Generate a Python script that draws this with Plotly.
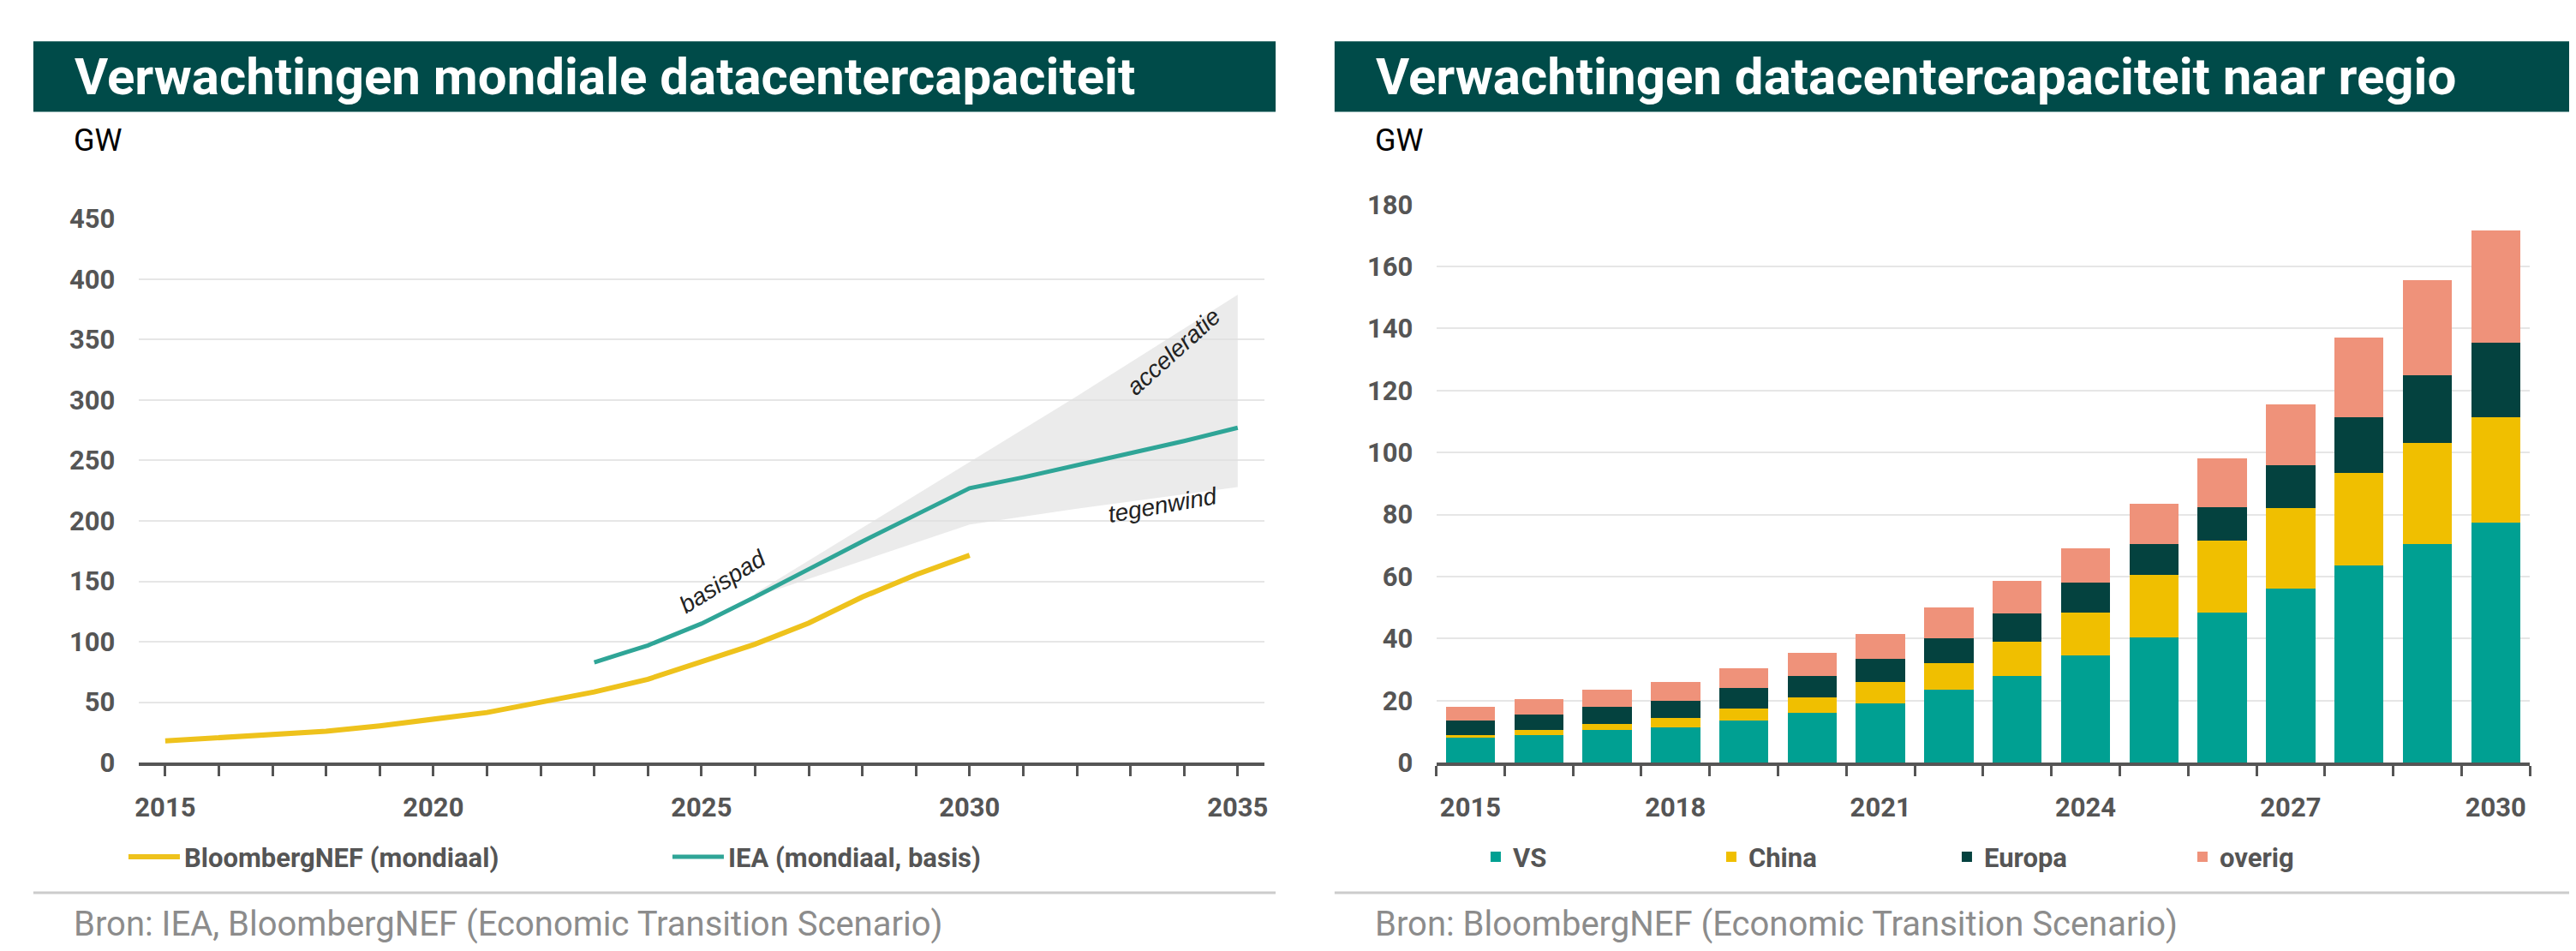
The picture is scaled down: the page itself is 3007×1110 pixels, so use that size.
import plotly.graph_objects as go

years_bnef = list(range(2015, 2031))
bnef = [18, 20.5, 23.5, 26, 30.5, 35.5, 41.5, 50, 58.5, 69, 83.5, 98, 115.5, 137, 155.5, 171.5]
years_iea = list(range(2023, 2036))
iea = [83, 97, 115, 137, 160, 183, 205, 227, 236, 246, 256, 266, 277]
band_years = [2026, 2030, 2032, 2035]
band_upper = [140, 249, 303, 387]
band_lower = [137, 197, 210, 228]

vs = [8, 9, 10.5, 11.5, 13.5, 16, 19, 23.5, 28, 34.5, 40.5, 48.5, 56, 63.5, 70.5, 77.5]
china = [1, 1.5, 2, 3, 4, 5, 7, 8.5, 11, 14, 20, 23, 26, 30, 32.5, 34]
europa = [4.5, 5, 5.5, 5.5, 6.5, 7, 7.5, 8, 9, 9.5, 10, 11, 14, 18, 22, 24]
overig = [4.5, 5, 5.5, 6, 6.5, 7.5, 8, 10, 10.5, 11, 13, 15.5, 19.5, 25.5, 30.5, 36]

W, H = 3007, 1110
FONT = "Liberation Sans Narrow, Roboto, sans-serif"
TICKC = "#555555"

def px(x): return x / W
def py(y): return 1 - y / H

fig = go.Figure()
fig.add_trace(go.Scatter(x=band_years + band_years[::-1], y=band_upper + band_lower[::-1], mode="lines",
                         fill="toself", fillcolor="rgba(225,225,225,0.65)", line=dict(width=0),
                         showlegend=False, hoverinfo="skip", xaxis="x", yaxis="y"))
fig.add_trace(go.Scatter(x=years_bnef, y=bnef, mode="lines", name="BloombergNEF (mondiaal)",
                         line=dict(color="#EEC21C", width=6), xaxis="x", yaxis="y", legend="legend"))
fig.add_trace(go.Scatter(x=years_iea, y=iea, mode="lines", name="IEA (mondiaal, basis)",
                         line=dict(color="#2FA597", width=5), xaxis="x", yaxis="y", legend="legend"))

for name, vals, col in [("VS", vs, "#00A092"), ("China", china, "#F0BF00"),
                        ("Europa", europa, "#04423F"), ("overig", overig, "#EF927A")]:
    fig.add_trace(go.Bar(x=years_bnef, y=vals, name=name, marker=dict(color=col, line=dict(width=0)),
                         width=0.72, xaxis="x2", yaxis="y2", legend="legend2"))

axis_common = dict(showline=True, linecolor=TICKC, linewidth=4, ticks="outside", ticklen=22, tickcolor="rgba(0,0,0,0)",
                   zeroline=False, tickfont=dict(family=FONT, size=31, color=TICKC, weight="bold"))
ytick = dict(family=FONT, size=31, color=TICKC, weight="bold")
fig.update_layout(
    width=W, height=H, margin=dict(l=0, r=0, t=0, b=0), paper_bgcolor="white", plot_bgcolor="white",
    barmode="stack", bargap=0.28, font=dict(family=FONT),
    xaxis=dict(domain=[px(150), px(1468)], range=[2014.5, 2035.5], tickvals=[2015, 2020, 2025, 2030, 2035],
               minor=dict(tick0=2015, dtick=1, ticks="outside", ticklen=12, tickwidth=3, tickcolor=TICKC),
               anchor="y", **axis_common),
    yaxis=dict(domain=[py(894), py(237)], range=[0, 450], dtick=50, showgrid=True, gridcolor="#E6E6E6",
               gridwidth=2, anchor="x", tickfont=ytick, zeroline=False, ticks="outside", ticklen=20,
               tickcolor="rgba(0,0,0,0)"),
    xaxis2=dict(domain=[px(1669), px(2949)], range=[2014.5, 2030.5], tickvals=[2015, 2018, 2021, 2024, 2027, 2030],
                minor=dict(tick0=2014.5, dtick=1, ticks="outside", ticklen=12, tickwidth=3, tickcolor=TICKC),
                anchor="y2", **axis_common),
    yaxis2=dict(domain=[py(894), py(220)], range=[0, 180], dtick=20, showgrid=True, gridcolor="#E6E6E6",
                gridwidth=2, anchor="x2", tickfont=ytick, zeroline=False, ticks="outside", ticklen=20,
                tickcolor="rgba(0,0,0,0)"),
    legend=dict(orientation="h", x=px(770), y=py(1008), xanchor="center", yanchor="middle",
                font=dict(family=FONT, size=31, color=TICKC, weight="bold"), entrywidth=560, itemwidth=60),
    legend2=dict(orientation="h", x=px(2270), y=py(1008), xanchor="center", yanchor="middle", traceorder="normal",
                 font=dict(family=FONT, size=31, color=TICKC, weight="bold"), entrywidth=230, itemwidth=30),
)

shapes = []
annotations = []
for x0, x1, title, src in [(27, 1481, "Verwachtingen mondiale datacentercapaciteit",
                            "Bron: IEA, BloombergNEF (Economic Transition Scenario)"),
                           (1550, 2998, "Verwachtingen datacentercapaciteit naar regio",
                            "Bron: BloombergNEF (Economic Transition Scenario)")]:
    shapes.append(dict(type="rect", xref="paper", yref="paper", x0=px(x0), x1=px(x1), y0=py(108), y1=py(23),
                       fillcolor="#004B49", line=dict(width=0), layer="below"))
    shapes.append(dict(type="line", xref="paper", yref="paper", x0=px(x0), x1=px(x1), y0=py(1051), y1=py(1051),
                       line=dict(color="#CCCCCC", width=3)))
    annotations.append(dict(xref="paper", yref="paper", x=px(x0 + 46), y=py(66), text=title, showarrow=False,
                            xanchor="left", yanchor="middle",
                            font=dict(family=FONT, size=60, color="white", weight="bold")))
    annotations.append(dict(xref="paper", yref="paper", x=px(x0 + 45), y=py(143), text="GW", showarrow=False,
                            xanchor="left", yanchor="middle", font=dict(family=FONT, size=36, color="black")))
    annotations.append(dict(xref="paper", yref="paper", x=px(x0 + 45), y=py(1089), text=src, showarrow=False,
                            xanchor="left", yanchor="middle", font=dict(family=FONT, size=40, color="#8C8C8C")))

for txt, x, y, ang in [("basispad", 2025.4, 150, -32), ("acceleratie", 2033.8, 340, -42), ("tegenwind", 2033.6, 213, -10)]:
    annotations.append(dict(xref="x", yref="y", x=x, y=y, text=f"<i>{txt}</i>", showarrow=False, textangle=ang,
                            font=dict(family="Liberation Sans, Arial, sans-serif", size=28, color="#222222")))

fig.update_layout(shapes=shapes, annotations=annotations)
fig.write_html("out.html")
